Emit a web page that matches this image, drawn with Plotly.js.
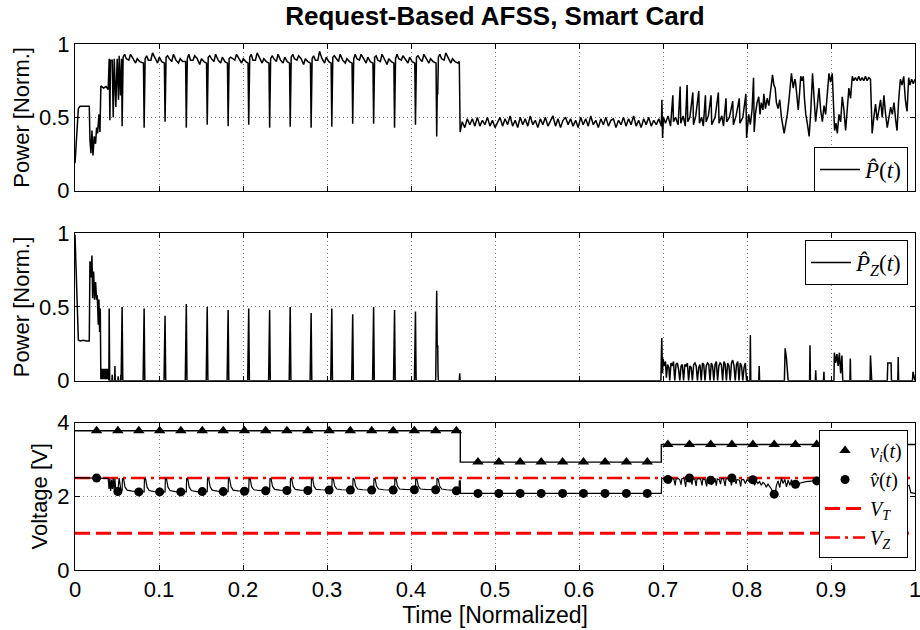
<!DOCTYPE html>
<html>
<head>
<meta charset="utf-8">
<script src="https://cdn.plot.ly/plotly-3.0.1.min.js"></script>
<style>html,body{margin:0;padding:0;background:#fff;}</style>
</head>
<body>
<div id="chart" style="width:920px;height:630px;"></div>
<script>
// ---------- DATA ----------
const xTickVals = [0, 0.1, 0.2, 0.3, 0.4, 0.5, 0.6, 0.7, 0.8, 0.9, 1];
const xTickText = ['0', '0.1', '0.2', '0.3', '0.4', '0.5', '0.6', '0.7', '0.8', '0.9', '1'];
const pTickVals = [0, 0.5, 1];
const pTickText = ['0', '0.5', '1'];
const vTickVals = [0, 2, 4];
const vTickText = ['0', '2', '4'];

// Panel 1: P-hat(t), [time, power]
const pStart = [[0,0.187],[0.002,0.37],[0.0032,0.41],[0.004,0.56],[0.006,0.575],[0.017,0.575],[0.0178,0.345],[0.019,0.255],[0.0202,0.41],[0.0214,0.24],[0.0229,0.37],[0.0245,0.32],[0.0257,0.43],[0.0269,0.39],[0.0285,0.52],[0.0297,0.40],[0.0308,0.714],[0.034,0.70],[0.037,0.71],[0.0395,0.69],[0.0407,0.90],[0.0415,0.48],[0.0423,0.89],[0.0443,0.89],[0.0455,0.50],[0.0467,0.90],[0.0486,0.57],[0.0502,0.90],[0.0518,0.62],[0.0526,0.92],[0.0542,0.65],[0.0554,0.90]];
const pCycles = [
[0.0561,0.44],[0.0573,0.91],[0.0591,0.93],[0.0611,0.90],[0.0641,0.89],[0.0661,0.93],[0.0691,0.90],[0.0721,0.87],[0.0741,0.90],[0.0771,0.88],[0.0815,0.87],
[0.0823,0.43],[0.0835,0.90],[0.0853,0.92],[0.0873,0.89],[0.0903,0.89],[0.0923,0.94],[0.0953,0.90],[0.0983,0.87],[0.1003,0.91],[0.1033,0.88],[0.1064,0.87],
[0.1072,0.47],[0.1084,0.91],[0.1102,0.92],[0.1122,0.90],[0.1152,0.88],[0.1172,0.93],[0.1202,0.89],[0.1232,0.87],[0.1252,0.90],[0.1282,0.88],[0.1317,0.88],
[0.1325,0.43],[0.1337,0.90],[0.1355,0.93],[0.1375,0.89],[0.1405,0.89],[0.1425,0.92],[0.1455,0.90],[0.1485,0.86],[0.1505,0.90],[0.1535,0.88],[0.1566,0.87],
[0.1574,0.45],[0.1586,0.91],[0.1604,0.92],[0.1624,0.90],[0.1654,0.88],[0.1674,0.93],[0.1704,0.89],[0.1734,0.87],[0.1754,0.91],[0.1784,0.88],[0.1815,0.87],
[0.1823,0.44],[0.1835,0.90],[0.1853,0.91],[0.1873,0.90],[0.1903,0.89],[0.1923,0.93],[0.1953,0.90],[0.1983,0.87],[0.2003,0.90],[0.2033,0.88],[0.2060,0.87],
[0.2068,0.45],[0.2080,0.91],[0.2098,0.93],[0.2118,0.89],[0.2148,0.89],[0.2168,0.94],[0.2198,0.90],[0.2228,0.87],[0.2248,0.90],[0.2278,0.88],[0.2309,0.87],
[0.2317,0.43],[0.2329,0.90],[0.2347,0.92],[0.2367,0.90],[0.2397,0.88],[0.2417,0.93],[0.2447,0.89],[0.2477,0.87],[0.2497,0.91],[0.2527,0.88],[0.2554,0.87],
[0.2562,0.436],[0.2574,0.91],[0.2592,0.93],[0.2612,0.90],[0.2642,0.89],[0.2662,0.92],[0.2692,0.90],[0.2722,0.86],[0.2742,0.90],[0.2772,0.88],[0.2803,0.87],
[0.2811,0.43],[0.2823,0.90],[0.2841,0.92],[0.2861,0.89],[0.2891,0.89],[0.2911,0.95],[0.2941,0.90],[0.2971,0.87],[0.2991,0.91],[0.3021,0.88],[0.3049,0.87],
[0.3057,0.436],[0.3069,0.91],[0.3087,0.92],[0.3107,0.90],[0.3137,0.88],[0.3157,0.93],[0.3187,0.89],[0.3217,0.87],[0.3237,0.90],[0.3267,0.88],[0.3298,0.87],
[0.3306,0.456],[0.3318,0.90],[0.3336,0.93],[0.3356,0.90],[0.3386,0.89],[0.3406,0.93],[0.3436,0.90],[0.3466,0.87],[0.3486,0.91],[0.3516,0.88],[0.3547,0.87],
[0.3555,0.456],[0.3567,0.91],[0.3585,0.92],[0.3605,0.89],[0.3635,0.88],[0.3655,0.93],[0.3685,0.90],[0.3715,0.86],[0.3735,0.90],[0.3765,0.88],[0.3796,0.87],
[0.3804,0.43],[0.3816,0.90],[0.3834,0.93],[0.3854,0.90],[0.3884,0.89],[0.3904,0.92],[0.3934,0.89],[0.3964,0.87],[0.3984,0.91],[0.4014,0.88],[0.4045,0.87],
[0.4053,0.45],[0.4065,0.91],[0.4083,0.92],[0.4103,0.90],[0.4133,0.88],[0.4153,0.93],[0.4183,0.90],[0.4213,0.87],[0.4233,0.90],[0.4263,0.88],[0.4298,0.87],
[0.4306,0.37],[0.4312,0.65],[0.4318,0.66],[0.4326,0.91],[0.4344,0.93],[0.4364,0.90],[0.4394,0.89],[0.4414,0.94],[0.4444,0.90],[0.4474,0.87],[0.4494,0.90],[0.4524,0.88],[0.4560,0.87],[0.4575,0.88],[0.4585,0.40]
];
const pMidTime = [0.461,0.464,0.467,0.470,0.473,0.476,0.479,0.482,0.485,0.488,0.491,0.494,0.497,0.500,0.503,0.506,0.509,0.512,0.515,0.518,0.521,0.524,0.527,0.530,0.533,0.536,0.539,0.542,0.545,0.548,0.551,0.554,0.557,0.560,0.563,0.566,0.569,0.572,0.575,0.578,0.581,0.584,0.587,0.590,0.593,0.596,0.599,0.602,0.605,0.608,0.611,0.614,0.617,0.620,0.623,0.626,0.629,0.632,0.635,0.638,0.641,0.644,0.647,0.650,0.653,0.656,0.659,0.662,0.665,0.668,0.671,0.674,0.677,0.680,0.683,0.686,0.689,0.692,0.695,0.698];
const pMidPower = [0.47,0.43,0.49,0.45,0.49,0.44,0.50,0.44,0.48,0.45,0.50,0.44,0.48,0.43,0.47,0.50,0.44,0.49,0.45,0.51,0.44,0.48,0.43,0.50,0.45,0.49,0.44,0.51,0.45,0.48,0.43,0.49,0.45,0.50,0.44,0.48,0.51,0.44,0.49,0.43,0.48,0.50,0.45,0.49,0.44,0.48,0.43,0.50,0.45,0.49,0.44,0.51,0.45,0.48,0.43,0.49,0.45,0.50,0.44,0.48,0.49,0.43,0.48,0.45,0.50,0.44,0.49,0.45,0.51,0.44,0.48,0.43,0.49,0.45,0.50,0.44,0.48,0.45,0.49,0.44];
const pLate = [[0.6987,0.62],[0.6995,0.36],[0.7005,0.50],[0.703,0.46],[0.706,0.51],[0.709,0.44],[0.7117,0.65],[0.7125,0.47],[0.715,0.50],[0.718,0.45],[0.7204,0.71],[0.7212,0.46],[0.724,0.51],[0.7265,0.44],[0.7287,0.72],[0.7295,0.47],[0.732,0.50],[0.7355,0.67],[0.7363,0.45],[0.739,0.51],[0.7426,0.68],[0.7434,0.46],[0.746,0.50],[0.748,0.44],[0.7505,0.65],[0.7513,0.47],[0.754,0.51],[0.7572,0.65],[0.758,0.45],[0.762,0.50],[0.7659,0.67],[0.7667,0.46],[0.770,0.51],[0.772,0.44],[0.775,0.63],[0.7758,0.47],[0.779,0.50],[0.783,0.61],[0.7838,0.45],[0.787,0.51],[0.7908,0.63],[0.7916,0.46],[0.795,0.50],[0.7987,0.66],[0.7995,0.36],[0.802,0.52],[0.804,0.45],[0.806,0.55],[0.8078,0.77],[0.8086,0.40],[0.810,0.52],[0.812,0.60],[0.814,0.64],[0.8155,0.52],[0.817,0.60],[0.819,0.55],[0.820,0.66],[0.822,0.56],[0.824,0.63],[0.826,0.58],[0.828,0.68],[0.8304,0.79],[0.832,0.72],[0.8335,0.70],[0.835,0.60],[0.837,0.56],[0.839,0.62],[0.841,0.50],[0.8442,0.39],[0.846,0.45],[0.848,0.52],[0.850,0.62],[0.8529,0.80],[0.855,0.70],[0.857,0.76],[0.858,0.73],[0.8595,0.62],[0.861,0.55],[0.8625,0.66],[0.864,0.78],[0.8655,0.75],[0.867,0.78],[0.8685,0.62],[0.870,0.52],[0.872,0.45],[0.874,0.37],[0.876,0.55],[0.878,0.80],[0.880,0.62],[0.8817,0.47],[0.8837,0.58],[0.8857,0.70],[0.8877,0.55],[0.8897,0.47],[0.8917,0.58],[0.8936,0.52],[0.8956,0.66],[0.8976,0.80],[0.8995,0.74],[0.9015,0.80],[0.9029,0.60],[0.9043,0.41],[0.906,0.46],[0.9075,0.39],[0.9095,0.52],[0.9115,0.47],[0.9134,0.64],[0.9154,0.55],[0.9174,0.41],[0.9194,0.55],[0.9213,0.70],[0.9233,0.63],[0.9253,0.78],[0.927,0.75],[0.929,0.77],[0.931,0.75],[0.933,0.78],[0.935,0.75],[0.937,0.77],[0.939,0.75],[0.941,0.78],[0.943,0.75],[0.945,0.77],[0.947,0.76],[0.949,0.39],[0.951,0.50],[0.953,0.59],[0.955,0.48],[0.957,0.54],[0.959,0.62],[0.961,0.50],[0.963,0.65],[0.965,0.52],[0.967,0.43],[0.969,0.50],[0.971,0.57],[0.973,0.52],[0.975,0.60],[0.977,0.48],[0.9786,0.41],[0.9806,0.62],[0.9826,0.76],[0.9846,0.72],[0.9866,0.78],[0.9885,0.62],[0.9905,0.54],[0.9925,0.77],[0.994,0.72],[0.996,0.76],[0.998,0.73],[1.0,0.76]];

// Panel 2: P_Z-hat(t), [time, power]
const pzStart = [[0,0.99],[0.0012,0.76],[0.002,0.64],[0.0026,0.66],[0.0032,0.50],[0.004,0.276],[0.006,0.27],[0.010,0.275],[0.014,0.27],[0.017,0.27],[0.0178,0.81],[0.019,0.70],[0.0202,0.85],[0.021,0.56],[0.0222,0.74],[0.0233,0.55],[0.0245,0.67],[0.0257,0.55],[0.0265,0.58],[0.0277,0.38],[0.0285,0.55],[0.0293,0.33],[0.0301,0.49],[0.0308,0.01],[0.0316,0.08],[0.0322,0.01],[0.0330,0.08],[0.0336,0.01],[0.0344,0.08],[0.0350,0.01],[0.0358,0.08],[0.0364,0.01],[0.0372,0.08],[0.0378,0.01],[0.0386,0.08],[0.0392,0.01],[0.0400,0.08],[0.0403,0],[0.0407,0.49],[0.0413,0],[0.0440,0],[0.0443,0.04],[0.0447,0],[0.0472,0],[0.0475,0.10],[0.0479,0],[0.0511,0],[0.0514,0.03],[0.0518,0],[0.0543,0],[0.0546,0.04],[0.0550,0]];
const pzSpikeTime = [0.0561,0.0823,0.1072,0.1325,0.1574,0.1823,0.2068,0.2317,0.2562,0.2811,0.3057,0.3306,0.3555,0.3804,0.4053,0.4306];
const pzSpikeHeight = [0.50,0.49,0.44,0.52,0.50,0.48,0.49,0.48,0.50,0.46,0.49,0.45,0.50,0.48,0.47,0.61];
const pzAfter = [[0.4312,0.23],[0.4318,0.24],[0.4322,0.05],[0.4326,0],[0.4575,0],[0.458,0.05],[0.4585,0],[0.6975,0]];
const pzLate = [[0.6985,0.29],[0.6995,0.05],[0.700,0.15],[0.7015,0.10],[0.703,0.13],[0.704,0.02],[0.7055,0.11],[0.707,0.09],[0.708,0],[0.7095,0.12],[0.711,0.10],[0.7125,0.13],[0.714,0],[0.7155,0.11],[0.717,0.12],[0.7185,0.08],[0.720,0],[0.7215,0.10],[0.723,0.11],[0.7245,0],[0.726,0.11],[0.7275,0.10],[0.729,0.12],[0.7305,0],[0.732,0.10],[0.7335,0.09],[0.735,0],[0.7365,0.11],[0.738,0.12],[0.7395,0.10],[0.741,0],[0.7425,0.09],[0.744,0.11],[0.7455,0],[0.747,0.12],[0.7485,0.11],[0.750,0],[0.7515,0.10],[0.753,0.12],[0.7545,0.11],[0.756,0],[0.7575,0.12],[0.759,0.10],[0.7605,0],[0.762,0.11],[0.7635,0.13],[0.765,0],[0.7665,0.10],[0.768,0.12],[0.7695,0.11],[0.771,0],[0.7725,0.13],[0.774,0.11],[0.7755,0],[0.777,0.12],[0.7785,0.10],[0.780,0],[0.7815,0.12],[0.783,0.14],[0.7845,0.10],[0.786,0],[0.7875,0.11],[0.789,0.13],[0.7905,0],[0.792,0.12],[0.7935,0.10],[0.795,0],[0.7965,0.09],[0.798,0.12],[0.7995,0],[0.8035,0],[0.804,0.31],[0.8045,0],[0.814,0],[0.8145,0.10],[0.815,0],[0.8445,0],[0.8454,0.22],[0.847,0.15],[0.848,0.06],[0.849,0],[0.8745,0],[0.875,0.24],[0.8755,0],[0.8813,0],[0.8818,0.07],[0.8823,0],[0.891,0],[0.8916,0.06],[0.892,0],[0.9035,0],[0.904,0.19],[0.9055,0.12],[0.907,0.18],[0.9085,0.10],[0.910,0.19],[0.9115,0.05],[0.913,0.17],[0.914,0],[0.9225,0],[0.923,0.15],[0.9235,0],[0.9465,0],[0.947,0.17],[0.9478,0.02],[0.9485,0],[0.967,0],[0.9676,0.12],[0.9715,0.12],[0.972,0],[0.9795,0],[0.980,0.16],[0.9805,0],[0.997,0],[0.9976,0.06],[1.0,0]];

// Panel 3: voltages
const tStep = [0, 0.4587, 0.698, 1.0];
const vInStep = [3.78, 2.93, 3.41, 3.41];
const vHatStart = [[0,2.51],[0.0257,2.50],[0.0395,2.49],[0.0405,2.20],[0.0415,2.48],[0.0425,2.15],[0.0435,2.45],[0.0445,2.20],[0.0455,2.50],[0.0465,2.18],[0.0475,2.47],[0.0487,2.13],[0.0510,2.13],[0.0525,2.50],[0.0535,2.28],[0.0548,2.15]];
const vHatCycles = [
[0.0561,2.16],[0.0565,2.49],[0.0579,2.47],[0.0596,2.25],[0.0621,2.17],[0.0681,2.14],[0.0760,2.13],
[0.0823,2.12],[0.0827,2.49],[0.0841,2.47],[0.0858,2.25],[0.0883,2.16],[0.0943,2.13],[0.1008,2.12],
[0.1072,2.12],[0.1076,2.49],[0.1090,2.47],[0.1107,2.25],[0.1132,2.16],[0.1192,2.13],[0.1260,2.12],
[0.1325,2.12],[0.1329,2.49],[0.1343,2.47],[0.1360,2.25],[0.1385,2.16],[0.1445,2.13],[0.1515,2.13],
[0.1574,2.13],[0.1578,2.49],[0.1592,2.47],[0.1609,2.26],[0.1634,2.17],[0.1694,2.14],[0.1764,2.13],
[0.1823,2.13],[0.1827,2.49],[0.1841,2.47],[0.1858,2.26],[0.1883,2.17],[0.1943,2.15],[0.2017,2.14],
[0.2068,2.14],[0.2072,2.49],[0.2086,2.47],[0.2103,2.26],[0.2128,2.18],[0.2188,2.16],[0.2270,2.15],
[0.2317,2.15],[0.2321,2.49],[0.2335,2.47],[0.2352,2.27],[0.2377,2.19],[0.2437,2.17],[0.2523,2.16],
[0.2562,2.16],[0.2566,2.49],[0.2580,2.47],[0.2597,2.27],[0.2622,2.19],[0.2682,2.17],[0.2772,2.16],
[0.2811,2.16],[0.2815,2.49],[0.2829,2.47],[0.2846,2.27],[0.2871,2.19],[0.2931,2.18],[0.3025,2.17],
[0.3057,2.17],[0.3061,2.49],[0.3075,2.47],[0.3092,2.28],[0.3117,2.20],[0.3177,2.18],[0.3278,2.17],
[0.3306,2.17],[0.3310,2.49],[0.3324,2.47],[0.3341,2.28],[0.3366,2.20],[0.3426,2.18],[0.3532,2.17],
[0.3555,2.17],[0.3559,2.49],[0.3573,2.47],[0.3590,2.28],[0.3615,2.20],[0.3675,2.18],[0.3788,2.17],
[0.3804,2.17],[0.3808,2.49],[0.3822,2.47],[0.3839,2.28],[0.3864,2.20],[0.3924,2.19],[0.4040,2.18],
[0.4053,2.18],[0.4057,2.49],[0.4071,2.47],[0.4088,2.28],[0.4113,2.20],[0.4173,2.19],[0.4294,2.18],
[0.4306,2.18],[0.4310,2.49],[0.4324,2.47],[0.4341,2.28],[0.4366,2.20],[0.4426,2.18],[0.4540,2.15],[0.4570,2.15],[0.4576,2.42],[0.4587,2.42],[0.4590,2.08]
];
const vHatMid = [[0.52,2.08],[0.60,2.08],[0.698,2.08]];
const vHatLate = [[0.6985,2.50],[0.701,2.47],[0.703,2.52],[0.705,2.46],[0.7065,2.49],[0.708,2.35],[0.709,2.48],[0.711,2.50],[0.713,2.46],[0.7145,2.30],[0.7155,2.47],[0.718,2.49],[0.720,2.45],[0.7215,2.32],[0.7225,2.48],[0.725,2.50],[0.727,2.26],[0.728,2.47],[0.731,2.50],[0.733,2.48],[0.7345,2.32],[0.7355,2.49],[0.738,2.46],[0.7395,2.28],[0.7405,2.47],[0.743,2.49],[0.745,2.45],[0.7465,2.30],[0.7475,2.48],[0.750,2.46],[0.752,2.27],[0.753,2.46],[0.756,2.44],[0.758,2.31],[0.759,2.47],[0.762,2.48],[0.7635,2.29],[0.7645,2.47],[0.767,2.45],[0.7685,2.33],[0.7695,2.48],[0.772,2.49],[0.774,2.28],[0.775,2.47],[0.778,2.50],[0.780,2.46],[0.7815,2.30],[0.7825,2.48],[0.785,2.47],[0.787,2.34],[0.788,2.46],[0.791,2.44],[0.7925,2.27],[0.7935,2.45],[0.796,2.46],[0.798,2.35],[0.800,2.45],[0.803,2.40],[0.805,2.45],[0.807,2.44],[0.809,2.30],[0.811,2.42],[0.813,2.35],[0.815,2.40],[0.817,2.30],[0.819,2.38],[0.821,2.34],[0.823,2.25],[0.825,2.33],[0.827,2.27],[0.829,2.20],[0.831,2.08],[0.8335,2.06],[0.835,2.30],[0.837,2.42],[0.839,2.24],[0.841,2.50],[0.843,2.35],[0.845,2.46],[0.847,2.26],[0.849,2.44],[0.851,2.30],[0.853,2.45],[0.855,2.30],[0.858,2.33],[0.87,2.40],[0.89,2.44],[0.91,2.40],[0.93,2.42],[0.95,2.40],[0.97,2.42],[0.985,2.38],[0.990,2.29],[0.993,2.30],[0.995,2.10],[1.0,2.08]];
const markTime = [0.0257,0.051,0.076,0.1008,0.126,0.1515,0.1764,0.2017,0.227,0.2523,0.2772,0.3025,0.3278,0.3532,0.3788,0.404,0.4294,0.454,0.4797,0.5046,0.530,0.555,0.5805,0.6053,0.631,0.6564,0.6813,0.7058,0.7315,0.7568,0.782,0.807,0.8324,0.8577,0.883,0.908,0.934,0.959,0.984];
const vInMark = [3.78,3.78,3.78,3.78,3.78,3.78,3.78,3.78,3.78,3.78,3.78,3.78,3.78,3.78,3.78,3.78,3.78,3.78,2.93,2.93,2.93,2.93,2.93,2.93,2.93,2.93,2.93,3.41,3.41,3.41,3.41,3.41,3.41,3.41,3.41,3.41,3.41,3.41,3.41];
const vHatMark = [2.50,2.13,2.12,2.12,2.12,2.13,2.13,2.14,2.15,2.16,2.16,2.17,2.17,2.17,2.17,2.18,2.18,2.15,2.08,2.08,2.08,2.08,2.08,2.08,2.08,2.08,2.08,2.46,2.50,2.44,2.50,2.45,2.06,2.33,2.42,2.40,2.44,2.41,2.40];
const tRef = [0, 1];
const VT = [1.0, 1.0];
const VZ = [2.5, 2.5];

// ---------- BUILD ----------
function xs(a){ return a.map(p => p[0]); }
function ys(a){ return a.map(p => p[1]); }

const pAll = pStart.concat(pCycles, pMidTime.map((t,i)=>[t,pMidPower[i]]), pLate);
let pzAll = pzStart.slice();
pzSpikeTime.forEach((t,i) => { pzAll.push([t-0.0012,0],[t,pzSpikeHeight[i]]); if(i < pzSpikeTime.length-1) pzAll.push([t+0.0008,0]); });
pzAll = pzAll.concat(pzAfter, pzLate);
const vHatAll = vHatStart.concat(vHatCycles, vHatMid, vHatLate);

const serif = 'Liberation Serif, DejaVu Serif, serif';
const sans = 'Liberation Sans, Arial, sans-serif';

const traces = [
  {x: xs(pAll), y: ys(pAll), xaxis:'x', yaxis:'y', mode:'lines', line:{color:'#000', width:1.5},
   name:'<i>P\u0302</i>(<i>t</i>)', legend:'legend'},
  {x: xs(pzAll), y: ys(pzAll), xaxis:'x2', yaxis:'y2', mode:'lines', line:{color:'#000', width:1.5},
   name:'<i>P\u0302<sub>Z</sub></i>(<i>t</i>)', legend:'legend2'},
  {x: tRef, y: VT, xaxis:'x3', yaxis:'y3', mode:'lines', line:{color:'#ff0000', width:3, dash:'15px,6px'},
   name:'<i>V<sub>T</sub></i>', legend:'legend3', legendrank:3},
  {x: tRef, y: VZ, xaxis:'x3', yaxis:'y3', mode:'lines', line:{color:'#ff0000', width:2.5, dash:'15px,5px,3px,5px'},
   name:'<i>V<sub>Z</sub></i>', legend:'legend3', legendrank:4},
  {x: tStep, y: vInStep, xaxis:'x3', yaxis:'y3', mode:'lines', line:{color:'#000', width:1.4, shape:'hv'},
   showlegend:false, hoverinfo:'skip'},
  {x: xs(vHatAll), y: ys(vHatAll), xaxis:'x3', yaxis:'y3', mode:'lines', line:{color:'#000', width:1.2},
   showlegend:false, hoverinfo:'skip'},
  {x: markTime, y: vInMark, xaxis:'x3', yaxis:'y3', mode:'markers', marker:{symbol:'triangle-up', size:10, color:'#000'},
   name:'<i>v<sub>i</sub></i>(<i>t</i>)', legend:'legend3', legendrank:1},
  {x: markTime, y: vHatMark, xaxis:'x3', yaxis:'y3', mode:'markers', marker:{symbol:'circle', size:9, color:'#000'},
   name:'<i>v\u0302</i>(<i>t</i>)', legend:'legend3', legendrank:2}
];

function xAxis(anchor, labels){
  return {domain:[0,1], anchor:anchor, range:[0,1], tickvals:xTickVals, ticktext:xTickText,
    showticklabels:labels, ticks:'inside', ticklen:5, tickcolor:'#000', mirror:'ticks', ticklabeloverflow:'allow',
    showline:true, linecolor:'#000', linewidth:1, showgrid:true, gridcolor:'#808080', griddash:'1px,3px', gridwidth:1,
    zeroline:false, tickfont:{family:sans, size:22, color:'#000'}};
}
function yAxis(anchor, dom, range, tv, tt, title){
  return {domain:dom, anchor:anchor, range:range, tickvals:tv, ticktext:tt,
    ticks:'inside', ticklen:5, tickcolor:'#000', mirror:'ticks',
    showline:true, linecolor:'#000', linewidth:1, showgrid:true, gridcolor:'#808080', griddash:'1px,3px', gridwidth:1,
    zeroline:false, tickfont:{family:sans, size:22, color:'#000'},
    title:{text:title, font:{family:sans, size:22, color:'#000'}, standoff:3}};
}
function legendBox(y, size){
  return {x:0.9917, xanchor:'right', y:y, yanchor:'top', bgcolor:'#fff', bordercolor:'#000', borderwidth:1,
    font:{family:serif, size:size, color:'#000'}, tracegroupgap:0, itemwidth:40};
}

const xa3 = xAxis('y3', true);
xa3.title = {text:'Time [Normalized]', font:{family:sans, size:23, color:'#000'}, standoff:0};

const layout = {
  width:920, height:630,
  margin:{l:75, r:5, t:44, b:60},
  paper_bgcolor:'#fff', plot_bgcolor:'#fff',
  title:{text:'<b>Request-Based AFSS, Smart Card</b>', x:0.5, xref:'paper', xanchor:'center', y:0.975, yanchor:'middle',
    font:{family:sans, size:26, color:'#000'}},
  xaxis: xAxis('y', false),
  xaxis2: xAxis('y2', false),
  xaxis3: xa3,
  yaxis: yAxis('x', [0.7211,1], [0,1], pTickVals, pTickText, 'Power [Norm.]'),
  yaxis2: yAxis('x2', [0.3599,0.6401], [0,1], pTickVals, pTickText, 'Power [Norm.]'),
  yaxis3: yAxis('x3', [0,0.28], [0,4], vTickVals, vTickText, 'Voltage [V]'),
  legend: legendBox(0.8042, 23),
  legend2: legendBox(0.6274, 23),
  legend3: legendBox(0.2662, 20),
  showlegend:true
};

Plotly.newPlot('chart', traces, layout, {displayModeBar:false, staticPlot:true});
</script>
</body>
</html>
